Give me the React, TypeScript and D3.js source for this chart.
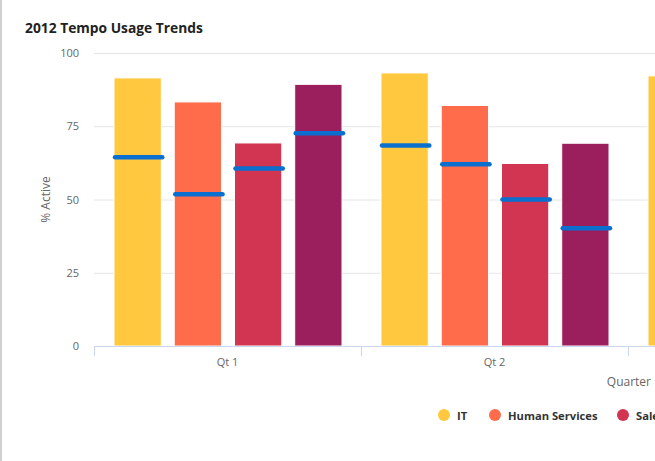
import { useEffect, useRef } from "react";
import * as d3 from "d3";

const quarters = ["Qt 1", "Qt 2", "Qt 3"];
const seriesNames = ["IT", "Human Services", "Sales", "Marketing"];
const seriesColors = ["#ffc83e", "#fe6c4c", "#d13552", "#9c1f5d"];
// bar values per series, one per quarter (null = outside the visible frame)
const itValues = [91.5, 93.2, 92.2];
const hsValues = [83.3, 82.1, null];
const salesValues = [69.3, 62.3, null];
const marketingValues = [89.3, 69.2, null];
// blue hand-drawn marks over the bars
const itMarks = [64.4, 68.4, null];
const hsMarks = [51.8, 62.0, null];
const salesMarks = [60.6, 50.0, null];
const marketingMarks = [72.6, 40.2, null];
const yTicks = [0, 25, 50, 75, 100];

const values = [itValues, hsValues, salesValues, marketingValues];
const marks = [itMarks, hsMarks, salesMarks, marketingMarks];

const App = () => {
  const svgRef = useRef<SVGSVGElement | null>(null);

  useEffect(() => {
    document.body.style.margin = "0";
    if (!svgRef.current) return;

    const width = 655;
    const height = 461;
    const font = "'Open Sans', sans-serif";

    const svg = d3.select(svgRef.current).attr("width", width).attr("height", height);
    svg.selectAll("*").remove();

    const x = d3.scaleBand<string>().domain(quarters).range([94, 895]);
    const xInner = d3
      .scaleBand<string>()
      .domain(seriesNames)
      .range([20, x.bandwidth() - 19])
      .paddingInner(0.215);
    const y = d3.scaleLinear().domain([0, 100]).range([346, 53]);

    // card border
    svg.append("rect").attr("x", 0).attr("y", 0).attr("width", 2).attr("height", height).attr("fill", "#d0d0d0");

    svg
      .append("text")
      .attr("x", 25)
      .attr("y", 33)
      .attr("font-family", font)
      .attr("font-size", 13.8)
      .attr("font-weight", 700)
      .attr("fill", "#222")
      .text("2012 Tempo Usage Trends");

    // gridlines
    svg
      .append("g")
      .selectAll("line")
      .data(yTicks.filter((t) => t > 0))
      .enter()
      .append("line")
      .attr("x1", 94)
      .attr("x2", width)
      .attr("y1", (d) => y(d) + 0.5)
      .attr("y2", (d) => y(d) + 0.5)
      .attr("stroke", "#e6e6e6");

    svg
      .append("g")
      .selectAll("text")
      .data(yTicks)
      .enter()
      .append("text")
      .attr("x", 79)
      .attr("y", (d) => y(d) + 4)
      .attr("text-anchor", "end")
      .attr("font-family", font)
      .attr("font-size", 11)
      .attr("fill", "#666")
      .text((d) => d);

    svg
      .append("text")
      .attr("transform", `translate(50,${y(50)}) rotate(-90)`)
      .attr("text-anchor", "middle")
      .attr("font-family", font)
      .attr("font-size", 12)
      .attr("fill", "#666")
      .text("% Active");

    // bars
    const bars = svg.append("g");
    values.forEach((vals, si) => {
      bars
        .selectAll(`.bar${si}`)
        .data(quarters.map((q, qi) => ({ q, v: vals[qi] })).filter((d) => d.v !== null))
        .enter()
        .append("rect")
        .attr("x", (d) => (x(d.q) as number) + (xInner(seriesNames[si]) as number))
        .attr("y", (d) => y(d.v as number))
        .attr("width", xInner.bandwidth())
        .attr("height", (d) => y(0) - y(d.v as number))
        .attr("fill", seriesColors[si])
        .attr("stroke", "#fff")
        .attr("stroke-width", 1);
    });

    // x axis
    svg
      .append("line")
      .attr("x1", 94)
      .attr("x2", width)
      .attr("y1", 346.5)
      .attr("y2", 346.5)
      .attr("stroke", "#ccd6eb");
    svg
      .append("g")
      .selectAll("line")
      .data(quarters)
      .enter()
      .append("line")
      .attr("x1", (d) => (x(d) as number) + 0.5)
      .attr("x2", (d) => (x(d) as number) + 0.5)
      .attr("y1", 346)
      .attr("y2", 356)
      .attr("stroke", "#ccd6eb");
    svg
      .append("g")
      .selectAll("text")
      .data(quarters.filter((q) => (x(q) as number) + x.bandwidth() / 2 < width))
      .enter()
      .append("text")
      .attr("x", (d) => (x(d) as number) + x.bandwidth() / 2)
      .attr("y", 366)
      .attr("text-anchor", "middle")
      .attr("font-family", font)
      .attr("font-size", 11)
      .attr("fill", "#666")
      .text((d) => d);

    svg
      .append("text")
      .attr("x", 651)
      .attr("y", 386)
      .attr("text-anchor", "end")
      .attr("font-family", font)
      .attr("font-size", 12)
      .attr("fill", "#666")
      .text("Quarter");

    // blue marks
    const markLayer = svg.append("g");
    marks.forEach((vals, si) => {
      markLayer
        .selectAll(`.mark${si}`)
        .data(quarters.map((q, qi) => ({ q, v: vals[qi] })).filter((d) => d.v !== null))
        .enter()
        .append("line")
        .attr("x1", (d) => (x(d.q) as number) + (xInner(seriesNames[si]) as number) + 1)
        .attr("x2", (d) => (x(d.q) as number) + (xInner(seriesNames[si]) as number) + xInner.bandwidth() + 1)
        .attr("y1", (d) => y(d.v as number))
        .attr("y2", (d) => y(d.v as number))
        .attr("stroke", "#0b6fcf")
        .attr("stroke-width", 4.5)
        .attr("stroke-linecap", "round");
    });

    // legend
    const legendX = [444, 495, 623, 760];
    const legend = svg
      .append("g")
      .selectAll("g")
      .data(seriesNames)
      .enter()
      .append("g")
      .attr("transform", (_, i) => `translate(${legendX[i]},415)`);
    legend
      .append("circle")
      .attr("r", 6)
      .attr("fill", (_, i) => seriesColors[i]);
    legend
      .append("text")
      .attr("x", 13)
      .attr("y", 4.5)
      .attr("font-family", font)
      .attr("font-size", 11.2)
      .attr("font-weight", 700)
      .attr("fill", "#333")
      .text((d) => d);
  }, []);

  return <svg ref={svgRef} style={{ display: "block" }}></svg>;
};

export default App;
